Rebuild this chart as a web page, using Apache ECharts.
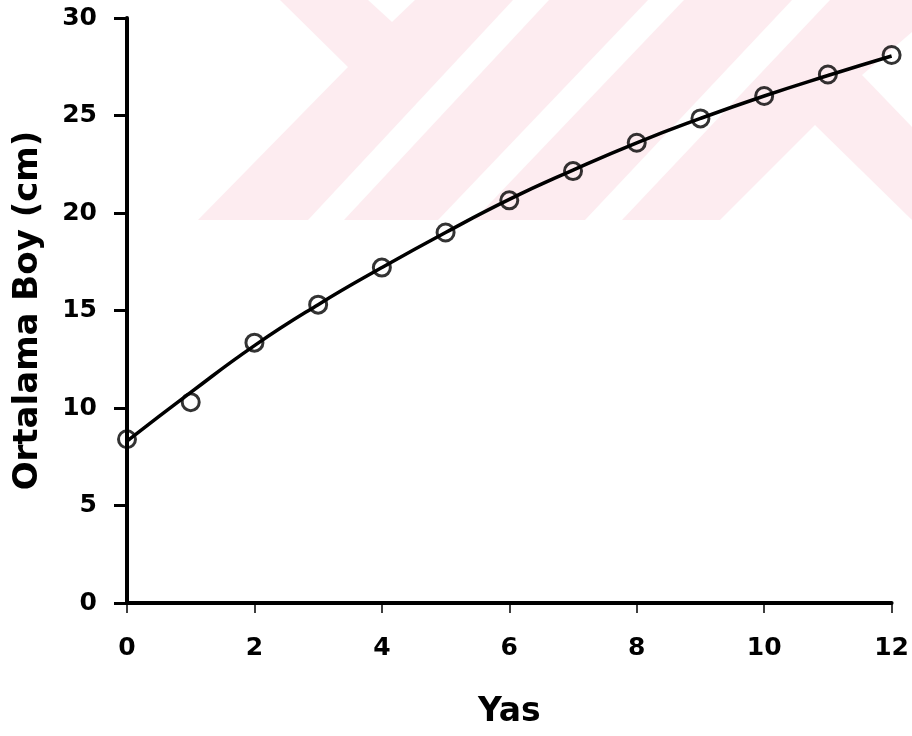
<!DOCTYPE html>
<html>
<head>
<meta charset="utf-8">
<script src="https://cdn.jsdelivr.net/npm/echarts@6/dist/echarts.min.js"></script>
<style>
  html, body { margin: 0; padding: 0; background: #fff; }
  #main { width: 912px; height: 736px; }
</style>
</head>
<body>
<div id="main"></div>
<script>
var chartDom = document.getElementById('main');
var myChart = echarts.init(chartDom);
var option;

// age (years) and mean length (cm)
let ages = [0, 1, 2, 3, 4, 5, 6, 7, 8, 9, 10, 11, 12];
let observed = [8.4, 10.3, 13.35, 15.3, 17.2, 19.0, 20.65, 22.15, 23.6, 24.85, 26.0, 27.1, 28.1];
let fitted = [8.3, 10.8, 13.2, 15.3, 17.2, 19.0, 20.7, 22.2, 23.6, 24.85, 26.0, 27.05, 28.05];

let xName = 'Yas';
let yName = 'Ortalama Boy (cm)';

let font = 'DejaVu Sans';
let pink = '#fdecf0';

// background watermark (decoration only)
function poly(points, color) {
  return { type: 'polygon', silent: true, z: -10, shape: { points: points }, style: { fill: color } };
}
let watermark = [
  poly([[280, 0], [912, 0], [912, 220], [198, 220], [348, 67]], pink),
  poly([[368, 0], [392, 22], [415, 0]], '#fff'),
  poly([[513, 0], [549, 0], [344, 220], [308, 220]], '#fff'),
  poly([[648, 0], [684, 0], [474, 220], [438, 220]], '#fff'),
  poly([[792, 0], [830, 0], [622, 220], [585, 220]], '#fff'),
  poly([[720, 220], [815, 125], [912, 220]], '#fff'),
  poly([[862, 75], [912, 32], [912, 127]], '#fff')
];

option = {
  animation: false,
  backgroundColor: '#fff',
  graphic: watermark,
  grid: { left: 127, right: 19, top: 18, bottom: 133 },
  xAxis: {
    type: 'value',
    min: 0, max: 12, interval: 2,
    name: xName,
    nameLocation: 'middle',
    nameGap: 93,
    nameTextStyle: { fontFamily: font, fontWeight: 'bold', fontSize: 33, color: '#000' },
    axisLine: { lineStyle: { color: '#000', width: 4 } },
    axisTick: { length: 10, lineStyle: { color: '#000', width: 1.5 } },
    axisLabel: { margin: 33, fontFamily: font, fontWeight: 'bold', fontSize: 25, color: '#000' },
    splitLine: { show: false }
  },
  yAxis: {
    type: 'value',
    min: 0, max: 30, interval: 5,
    name: yName,
    nameLocation: 'middle',
    nameGap: 82,
    nameTextStyle: { fontFamily: font, fontWeight: 'bold', fontSize: 34, color: '#000' },
    axisLine: { show: true, lineStyle: { color: '#000', width: 4 } },
    axisTick: { show: true, length: 13, lineStyle: { color: '#000', width: 3 } },
    axisLabel: { margin: 30, fontFamily: font, fontWeight: 'bold', fontSize: 25, color: '#000' },
    splitLine: { show: false }
  },
  series: [
    {
      name: 'fit',
      type: 'line',
      smooth: true,
      showSymbol: false,
      data: ages.map((a, i) => [a, fitted[i]]),
      lineStyle: { color: '#000', width: 3.5 },
      z: 3
    },
    {
      name: 'observed',
      type: 'scatter',
      symbol: 'circle',
      symbolSize: 17,
      data: ages.map((a, i) => [a, observed[i]]),
      itemStyle: { color: 'rgba(0,0,0,0)', borderColor: '#000', borderWidth: 3 },
      z: 4
    }
  ]
};

option && myChart.setOption(option);
</script>
</body>
</html>
